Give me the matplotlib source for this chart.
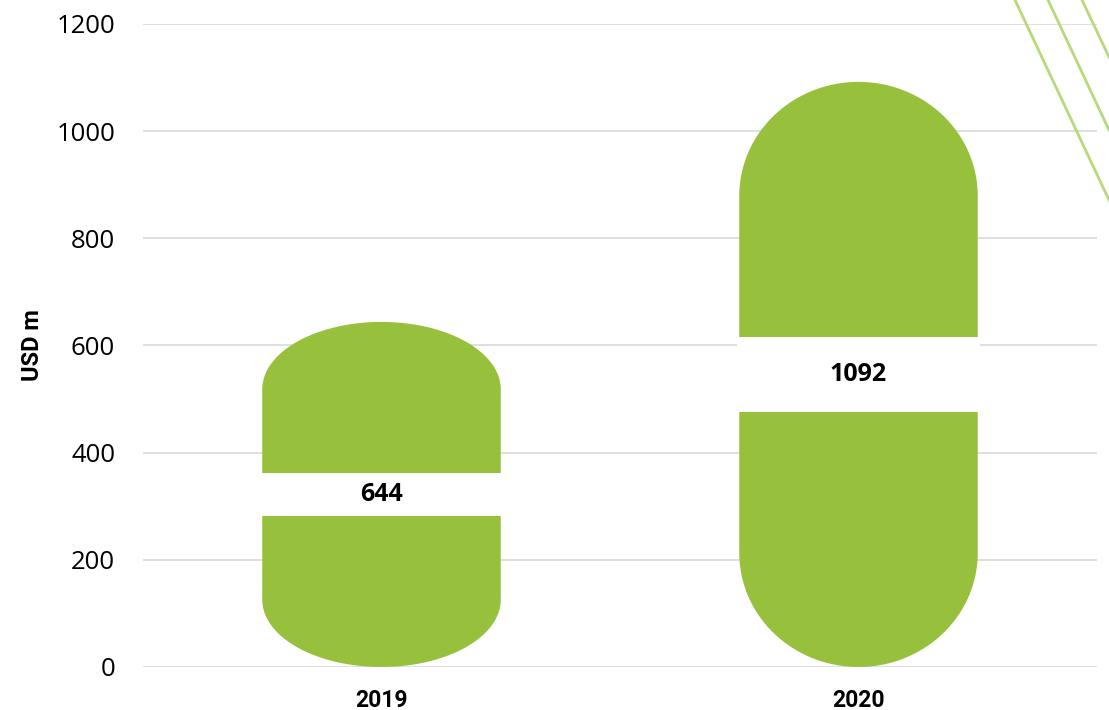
import numpy as np
import matplotlib.pyplot as plt
from matplotlib.patches import Polygon, Rectangle
from matplotlib.lines import Line2D

years = ["2019", "2020"]
values = [644, 1092]
yticks = [0, 200, 400, 600, 800, 1000, 1200]

green = "#97c13d"
grid_col = "#d9d9d9"

fig = plt.figure(figsize=(11.09, 7.10), dpi=100)
ax = fig.add_axes([143 / 1109, 43 / 710, 954 / 1109, 643 / 710])

ax.set_xlim(-0.5, 1.5)
ax.set_ylim(0, 1200)
ax.set_yticks(yticks)
ax.set_yticklabels([str(t) for t in yticks], fontsize=18.5, family="Open Sans")
ax.set_xticks(range(len(years)))
ax.set_xticklabels(years, fontsize=16.5, fontweight="bold", family="Roboto")
ax.tick_params(axis="both", length=0)
ax.tick_params(axis="y", pad=20)
ax.tick_params(axis="x", pad=16)
for s in ax.spines.values():
    s.set_visible(False)
ax.grid(axis="y", color=grid_col, linewidth=1.2, zorder=0)
ax.set_axisbelow(True)
ax.set_ylabel("USD m", fontsize=17, fontweight="bold", family="Roboto")
ax.yaxis.set_label_coords(-0.104, 0.5)

half_w = 0.25
t = np.linspace(0, np.pi, 80)
for i, v in enumerate(values):
    cap = 0.195 * v
    # capsule outline: top arc, then bottom arc
    top_x = i + half_w * np.cos(t)
    top_y = (v - cap) + cap * np.sin(t)
    bot_x = i - half_w * np.cos(t)
    bot_y = cap - cap * np.sin(t)
    pts = np.column_stack([np.concatenate([top_x, bot_x]),
                           np.concatenate([top_y, bot_y])])
    ax.add_patch(Polygon(pts, closed=True, facecolor=green, edgecolor="none", zorder=2))
    gap = 0.0635 * v
    ax.add_patch(Rectangle((i - half_w - 0.005, v / 2 - gap), 2 * half_w + 0.01, 2 * gap,
                           facecolor="white", edgecolor="none", zorder=3))
    ax.text(i, v / 2, str(v), ha="center", va="center", fontsize=18,
            fontweight="bold", family="Open Sans", zorder=4)

# decorative diagonal lines, top right
for x0, x1, y1 in [(1015, 1109, 200), (1048, 1109, 130), (1082, 1109, 57)]:
    fig.add_artist(Line2D([x0 / 1109, x1 / 1109], [1, 1 - y1 / 710],
                          transform=fig.transFigure, color="#b7d97c", linewidth=2))

fig.savefig("out.png", dpi=100)
